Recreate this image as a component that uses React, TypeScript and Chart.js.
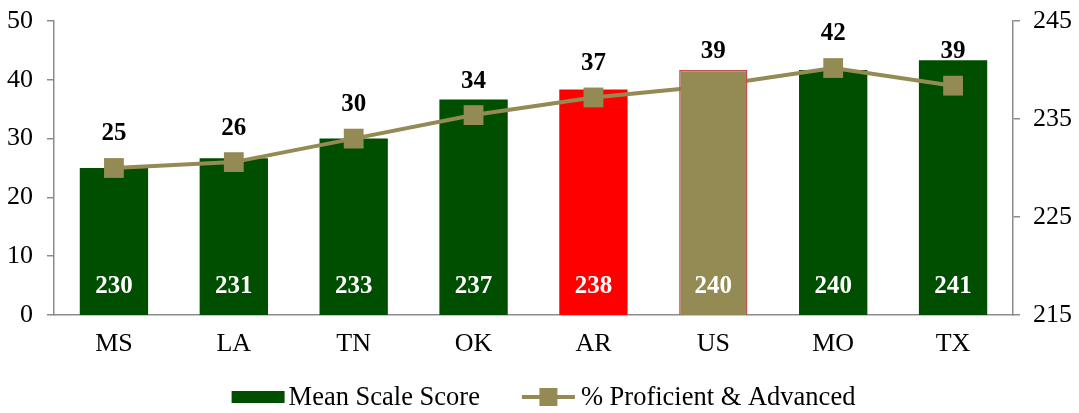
import React, { useEffect, useRef } from "react";
import { Chart, registerables } from "chart.js";

Chart.register(...registerables);

const categories = ["MS", "LA", "TN", "OK", "AR", "US", "MO", "TX"];
const meanScaleScore = [230, 231, 233, 237, 238, 240, 240, 241];
const proficientAdvanced = [25, 26, 30, 34, 37, 39, 42, 39];
const highlightState = "AR";
const nationCategory = "US";
const leftTicks = { min: 0, max: 50, step: 10 };
const rightTicks = { min: 215, max: 245, step: 10 };

const GREEN = "#004F00";
const RED = "#FF0000";
const OLIVE = "#948A54";
const US_BORDER = "#C0504D";
const AXIS = "#8C8C8C";
const FONT = "'Liberation Serif', 'Times New Roman', Times, serif";

const labelPlugin = {
  id: "valueLabels",
  afterDatasetsDraw(chart: any) {
    const ctx = chart.ctx;
    const bottom = chart.chartArea.bottom;
    ctx.save();
    ctx.font = `bold 25px ${FONT}`;
    ctx.textAlign = "center";
    ctx.textBaseline = "middle";
    [0, 2].forEach((di) => {
      const meta = chart.getDatasetMeta(di);
      const ds = chart.data.datasets[di];
      meta.data.forEach((el: any, i: number) => {
        const v = ds.data[i];
        if (v == null) return;
        ctx.fillStyle = "#FFFFFF";
        ctx.fillText(String(v), el.x, bottom - 28);
      });
    });
    const lm = chart.getDatasetMeta(1);
    lm.data.forEach((el: any, i: number) => {
      ctx.fillStyle = "#000000";
      ctx.fillText(String(chart.data.datasets[1].data[i]), el.x, el.y - 34);
    });
    ctx.restore();
  },
  afterDraw(chart: any) {
    const ctx = chart.ctx;
    ctx.save();
    ctx.font = `26.5px ${FONT}`;
    ctx.textBaseline = "middle";
    ctx.textAlign = "left";
    const t1 = "Mean Scale Score";
    const t2 = "% Proficient & Advanced";
    const w1 = ctx.measureText(t1).width;
    const w2 = ctx.measureText(t2).width;
    const total = 53 + 4 + w1 + 42 + 53 + 6 + w2;
    let x = chart.width / 2 + 4 - total / 2;
    const y = 397;
    ctx.fillStyle = GREEN;
    ctx.fillRect(x, y - 6, 53, 12);
    x += 57;
    ctx.fillStyle = "#000";
    ctx.fillText(t1, x, y + 1);
    x += w1 + 42;
    ctx.strokeStyle = OLIVE;
    ctx.lineWidth = 4;
    ctx.beginPath();
    ctx.moveTo(x, y);
    ctx.lineTo(x + 53, y);
    ctx.stroke();
    ctx.fillStyle = OLIVE;
    ctx.fillRect(x + 26.5 - 9, y - 9, 18, 18);
    x += 59;
    ctx.fillStyle = "#000";
    ctx.fillText(t2, x, y + 1);
    ctx.restore();
  },
};

const fitY = (w: number) => (s: any) => {
  s.width = w;
  s.paddingTop = 0;
  s.paddingBottom = 0;
};

export default function App() {
  const ref = useRef<HTMLCanvasElement | null>(null);
  useEffect(() => {
    document.body.style.margin = "0";
    if (!ref.current) return;
    const barColors = categories.map((c) => (c === highlightState ? RED : GREEN));
    const stateBars = meanScaleScore.map((v, i) => (categories[i] === nationCategory ? null : v));
    const nationBars = meanScaleScore.map((v, i) => (categories[i] === nationCategory ? v : null));
    const chart = new Chart(ref.current, {
      type: "bar",
      data: {
        labels: categories,
        datasets: [
          {
            type: "bar",
            label: "Mean Scale Score",
            data: stateBars as any,
            yAxisID: "y1",
            backgroundColor: barColors,
            borderWidth: 0,
            grouped: false,
            barPercentage: 0.57,
            categoryPercentage: 1,
            order: 2,
          } as any,
          {
            type: "line",
            label: "% Proficient & Advanced",
            data: proficientAdvanced,
            yAxisID: "y",
            borderColor: OLIVE,
            backgroundColor: OLIVE,
            borderWidth: 4,
            pointStyle: "rect",
            pointRadius: 14,
            pointBorderWidth: 0,
            pointBackgroundColor: OLIVE,
            tension: 0,
            order: 1,
          } as any,
          {
            type: "bar",
            label: "US",
            data: nationBars as any,
            yAxisID: "y1",
            backgroundColor: OLIVE,
            borderColor: US_BORDER,
            borderWidth: 1.5,
            grouped: false,
            barPercentage: 0.57,
            categoryPercentage: 1,
            order: 0,
          } as any,
        ],
      },
      options: {
        responsive: false,
        animation: false,
        devicePixelRatio: 1,
        layout: { padding: { left: 6, right: 0, top: 21, bottom: 53 } },
        plugins: {
          legend: { display: false },
          tooltip: { enabled: false },
        },
        scales: {
          x: {
            grid: { display: false, drawTicks: false },
            border: { display: true, color: AXIS, width: 1.5 },
            ticks: { color: "#000", font: { family: FONT, size: 26 }, padding: 14 },
            afterFit: (s: any) => { s.height = 45; s.paddingLeft = 0; s.paddingRight = 0; },
          },
          y: {
            position: "left",
            min: leftTicks.min,
            max: leftTicks.max,
            grid: { display: true, drawOnChartArea: false, drawTicks: true, tickLength: 7, color: AXIS, lineWidth: 1.5 },
            border: { display: true, color: AXIS, width: 1.5 },
            ticks: { stepSize: leftTicks.step, color: "#000", font: { family: FONT, size: 26 }, padding: 14 },
            afterFit: fitY(48),
          },
          y1: {
            position: "right",
            min: rightTicks.min,
            max: rightTicks.max,
            grid: { display: true, drawOnChartArea: false, drawTicks: true, tickLength: 7, color: AXIS, lineWidth: 1.5 },
            border: { display: true, color: AXIS, width: 1.5 },
            ticks: { stepSize: rightTicks.step, color: "#000", font: { family: FONT, size: 26 }, padding: 13 },
            afterFit: fitY(66),
          },
        },
      },
      plugins: [labelPlugin],
    });
    return () => chart.destroy();
  }, []);
  return (
    <div style={{ width: 1079, height: 413 }}>
      <canvas ref={ref} width={1079} height={413} />
    </div>
  );
}
